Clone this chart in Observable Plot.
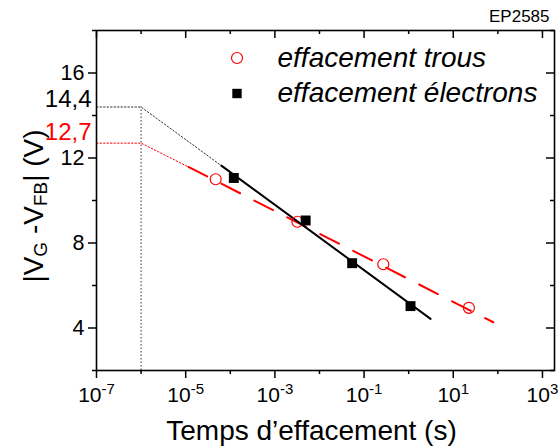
<!DOCTYPE html>
<html>
<head>
<meta charset="utf-8">
<script src="https://cdn.jsdelivr.net/npm/d3@7"></script>
<script src="https://cdn.jsdelivr.net/npm/@observablehq/plot@0.6"></script>
<style>
  html, body { margin: 0; padding: 0; background: white; }
</style>
</head>
<body>
<div id="chart"></div>
<script>
// ---- data ----
const trousT = [4.7e-5, 3.2e-3, 0.27, 22.4];
const trousV = [11.0, 9.0, 7.0, 4.95];
const electronsT = [1.2e-4, 4.9e-3, 0.054, 1.1];
const electronsV = [11.06, 9.06, 7.05, 5.03];

// fitted lines (time, voltage)
const elecFitDottedT = [1e-7, 1e-6, 6.3e-5];
const elecFitDottedV = [14.4, 14.4, 11.64];
const elecFitSolidT = [6.3e-5, 3.1];
const elecFitSolidV = [11.64, 4.43];
const trousFitDottedT = [1e-7, 1e-6, 1.15e-5];
const trousFitDottedV = [12.7, 12.7, 11.58];
const trousFitDashedT = [1.15e-5, 79];
const trousFitDashedV = [11.58, 4.27];
const markerTime = [1e-6];
const markerVRange = [2, 14.4];

// ticks
const majorX = [1e-7, 1e-5, 1e-3, 1e-1, 1e1, 1e3];
const minorX = [1e-6, 1e-4, 1e-2, 1, 1e2];
const majorY = [4, 8, 12, 16];
const minorY = [2, 6, 10, 14, 18];
const extraYValues = [14.4, 12.7];
const extraYLabels = ["14,4", "12,7"];
const extraYColors = ["black", "red"];

// texts
const legendLabels = ["effacement trous", "effacement électrons"];
const xTitle = "Temps d’effacement (s)";
const refLabel = "EP2585";

const zip = (a, b) => a.map((v, i) => ({t: v, v: b[i]}));
const W = 558, H = 448, mL = 96, mR = 4, mT = 30, mB = 78;
const pw = W - mL - mR, ph = H - mT - mB;
const dotted = "1.5,2";

const chart = Plot.plot({
  width: W, height: H,
  marginLeft: mL, marginRight: mR, marginTop: mT, marginBottom: mB,
  style: {fontFamily: "'Liberation Sans', Arial, sans-serif", background: "white", color: "black"},
  x: {type: "log", domain: [1e-7, Math.pow(10, 3.27)]},
  y: {domain: [2, 18]},
  marks: [
    // axes (outward bottom / left)
    Plot.axisX(majorX, {tickSize: 8, tickPadding: 9, fontSize: 21, label: null,
      tickFormat: d => `${Math.round(Math.log10(d))}`, strokeWidth: 1.5}),
    Plot.axisX(minorX, {tickSize: 4, label: null, tickFormat: () => "", strokeWidth: 1.5}),
    Plot.axisY(majorY, {tickSize: 8, tickPadding: 4, fontSize: 21.5, label: null, strokeWidth: 1.5}),
    Plot.axisY(minorY, {tickSize: 4, label: null, tickFormat: () => "", strokeWidth: 1.5}),
    // inward ticks (top / right)
    Plot.tickX(majorX, {x: d => d, insetBottom: ph - 8, strokeWidth: 1.5}),
    Plot.tickX(minorX, {x: d => d, insetBottom: ph - 4, strokeWidth: 1.5}),
    Plot.tickY(majorY, {y: d => d, insetLeft: pw - 8, strokeWidth: 1.5}),
    Plot.tickY(minorY, {y: d => d, insetLeft: pw - 4, strokeWidth: 1.5}),
    // extrapolation guides
    Plot.line(zip(elecFitDottedT, elecFitDottedV), {x: "t", y: "v", stroke: "#333", strokeWidth: 1, strokeDasharray: dotted}),
    Plot.line(zip(trousFitDottedT, trousFitDottedV), {x: "t", y: "v", stroke: "red", strokeWidth: 1, strokeDasharray: dotted}),
    Plot.ruleX(markerTime, {x: d => d, y1: markerVRange[0], y2: markerVRange[1], stroke: "#333", strokeWidth: 1, strokeDasharray: dotted}),
    // fits
    Plot.line(zip(trousFitDashedT, trousFitDashedV), {x: "t", y: "v", stroke: "red", strokeWidth: 2, strokeDasharray: "21,16"}),
    Plot.line(zip(elecFitSolidT, elecFitSolidV), {x: "t", y: "v", stroke: "black", strokeWidth: 2}),
    // points
    Plot.dot(zip(trousT, trousV), {x: "t", y: "v", symbol: "circle", r: 5.5, stroke: "red", fill: "none", strokeWidth: 1.2}),
    Plot.dot(zip(electronsT, electronsV), {x: "t", y: "v", symbol: "square", r: 5.6, fill: "black", stroke: "none"}),
    // extra y labels
    Plot.text([0], {y: extraYValues[0], text: [extraYLabels[0]], fill: extraYColors[0], frameAnchor: "left", dx: -5, dy: 0,
       textAnchor: "end", lineAnchor: "bottom", fontSize: 24}),
    Plot.text([0], {y: extraYValues[1], text: [extraYLabels[1]], fill: extraYColors[1], frameAnchor: "left", dx: -5, dy: -3,
       textAnchor: "end", lineAnchor: "bottom", fontSize: 24}),
    // legend
    Plot.dot([0], {frameAnchor: "top-left", dx: 140.5, dy: 27.5, symbol: "circle", r: 5.5, stroke: "red", fill: "none", strokeWidth: 1.2}),
    Plot.dot([0], {frameAnchor: "top-left", dx: 140.5, dy: 63, symbol: "square", r: 5.3, fill: "black"}),
    Plot.text([legendLabels[0]], {frameAnchor: "top-left", dx: 181, dy: 36, textAnchor: "start", lineAnchor: "bottom", fontSize: 28, fontStyle: "italic"}),
    Plot.text([legendLabels[1]], {frameAnchor: "top-left", dx: 181, dy: 71, textAnchor: "start", lineAnchor: "bottom", fontSize: 28, fontStyle: "italic"}),
    // reference label & x title
    Plot.text([refLabel], {frameAnchor: "top-right", dx: -5, dy: -9, textAnchor: "end", lineAnchor: "bottom", fontSize: 17}),
    Plot.text([xTitle], {frameAnchor: "bottom", dx: -14, dy: 69, lineAnchor: "bottom", fontSize: 28}),
    Plot.frame({stroke: "black", strokeWidth: 1.6})
  ]
});

document.getElementById("chart").appendChild(chart);

const svg = d3.select(chart);
// superscript exponents on x tick labels
svg.selectAll('g[aria-label="x-axis tick label"] text').each(function() {
  const t = d3.select(this);
  const s = t.text();
  if (!s) return;
  t.text(null);
  t.append("tspan").text("10");
  t.append("tspan").attr("dy", -8).attr("font-size", 15).text(s);
});

// y title with subscripts
const yl = svg.append("text")
  .attr("transform", "translate(43,206) rotate(-90)")
  .attr("text-anchor", "middle")
  .attr("font-size", 28)
  .attr("font-family", "'Liberation Sans', Arial, sans-serif")
  .attr("fill", "black");
yl.append("tspan").text("|V");
yl.append("tspan").attr("font-size", 19).attr("dy", 4).text("G");
yl.append("tspan").attr("dy", -4).text(" -V");
yl.append("tspan").attr("font-size", 19).attr("dy", 4).text("FB");
yl.append("tspan").attr("dy", -4).text("| (V)");
</script>
</body>
</html>
